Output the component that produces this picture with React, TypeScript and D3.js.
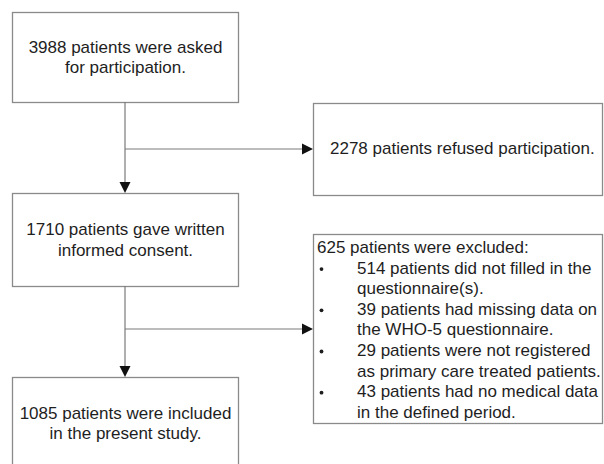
import React from "react";
import * as d3 from "d3";

const mainSteps = [
  ["3988 patients were asked", "for participation."],
  ["1710 patients gave written", "informed consent."],
  ["1085 patients were included", "in the present study."],
];
const refusedText = ["2278 patients refused participation."];
const excludedHeader = "625 patients were excluded:";
const excludedItems = [
  ["514 patients did not filled in the", "questionnaire(s)."],
  ["39 patients had missing data on", "the WHO-5 questionnaire."],
  ["29 patients were not registered", "as primary care treated patients."],
  ["43 patients had no medical data", "in the defined period."],
];

const W = 604;
const H = 464;
const FONT = "'Liberation Sans', Arial, sans-serif";
const FS = 17;
const BORDER = "#8a8a8a";
const LINE = "#7a7a7a";
const TEXT = "#1e1e1e";

const mainBoxes = [
  { x: 12, y: 12, w: 226, h: 90, lines: [47, 67] },
  { x: 12, y: 193, w: 226, h: 93, lines: [229, 250] },
  { x: 12, y: 377, w: 226, h: 100, lines: [413, 433] },
];
const sideBoxes = {
  refused: { x: 313, y: 103, w: 289, h: 92 },
  excluded: { x: 313, y: 234, w: 289, h: 189 },
};

function arrowHead(tipX: number, tipY: number, dir: "down" | "right") {
  const p = d3.path();
  const L = 11, hw = 5.5;
  if (dir === "down") {
    p.moveTo(tipX, tipY);
    p.lineTo(tipX - hw, tipY - L);
    p.lineTo(tipX + hw, tipY - L);
  } else {
    p.moveTo(tipX, tipY);
    p.lineTo(tipX - L, tipY - hw);
    p.lineTo(tipX - L, tipY + hw);
  }
  p.closePath();
  return p.toString();
}

export default function App() {
  const cx = 125;
  const branchYs = [149, 329];
  const exLineY = d3.range(9).map((i) => 247 + i * 20.6);
  let k = 0;
  const exRows: { x: number; y: number; t: string; bullet?: boolean }[] = [];
  exRows.push({ x: 317, y: exLineY[k++], t: excludedHeader });
  excludedItems.forEach((it) => {
    it.forEach((t, j) => {
      exRows.push({ x: 357, y: exLineY[k], t, bullet: j === 0 });
      k++;
    });
  });

  return (
    <svg
      width={W}
      height={H}
      style={{ position: "absolute", left: 0, top: 0, background: "#fff" }}
      fontFamily={FONT}
    >
      <rect x={0} y={0} width={W} height={H} fill="#fff" />
      {mainBoxes.map((b, i) => (
        <g key={i}>
          <rect x={b.x + 0.5} y={b.y + 0.5} width={b.w} height={b.h} fill="none" stroke={BORDER} strokeWidth={1.3} />
          {mainSteps[i].map((t, j) => (
            <text key={j} x={b.x + b.w / 2 + 0.5} y={b.lines[j]} dy="0.35em" textAnchor="middle" fontSize={FS} fill={TEXT}>
              {t}
            </text>
          ))}
        </g>
      ))}
      {[0, 1].map((i) => {
        const from = mainBoxes[i].y + mainBoxes[i].h;
        const to = mainBoxes[i + 1].y;
        return (
          <g key={"v" + i}>
            <line x1={cx} x2={cx} y1={from} y2={to - 10} stroke={LINE} strokeWidth={1.2} />
            <path d={arrowHead(cx, to, "down")} fill="#111" />
            <line x1={cx} x2={sideBoxes.refused.x - 10} y1={branchYs[i]} y2={branchYs[i]} stroke={LINE} strokeWidth={1.2} />
            <path d={arrowHead(sideBoxes.refused.x, branchYs[i], "right")} fill="#111" />
          </g>
        );
      })}
      <rect
        x={sideBoxes.refused.x + 0.5}
        y={sideBoxes.refused.y + 0.5}
        width={sideBoxes.refused.w}
        height={sideBoxes.refused.h}
        fill="none"
        stroke={BORDER}
        strokeWidth={1.3}
      />
      <text x={330} y={148} dy="0.35em" fontSize={FS} fill={TEXT}>
        {refusedText[0]}
      </text>
      <rect
        x={sideBoxes.excluded.x + 0.5}
        y={sideBoxes.excluded.y + 0.5}
        width={sideBoxes.excluded.w}
        height={sideBoxes.excluded.h}
        fill="none"
        stroke={BORDER}
        strokeWidth={1.3}
      />
      {exRows.map((r, i) => (
        <g key={"ex" + i}>
          {r.bullet && <circle cx={321.5} cy={r.y + 1.5} r={1.9} fill={TEXT} />}
          <text x={r.x} y={r.y} dy="0.35em" fontSize={FS} fill={TEXT}>
            {r.t}
          </text>
        </g>
      ))}
    </svg>
  );
}
